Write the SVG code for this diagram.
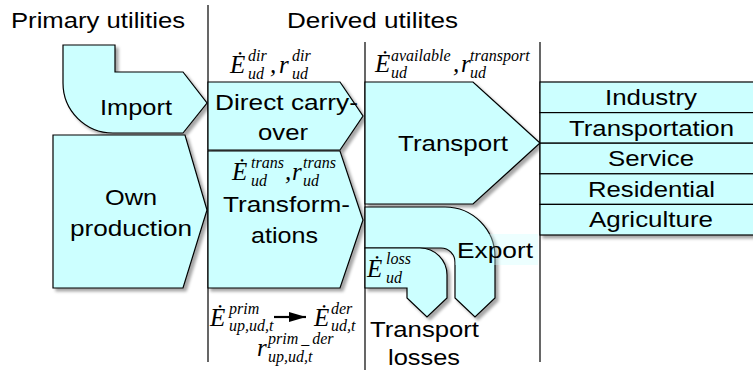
<svg xmlns="http://www.w3.org/2000/svg" width="753" height="372" viewBox="0 0 753 372">
<style>
.sh{fill:#ccffff;stroke:#000;stroke-width:1.2;filter:url(#ds)}
.div{stroke:#000;stroke-width:1.2}
.t{font-family:"Liberation Sans",Arial,sans-serif;font-size:22px;fill:#000}
.m{font-family:"Liberation Serif","Times New Roman",serif;font-style:italic;fill:#000}
.E{font-size:25px}
.s{font-size:16px}
</style>
<defs>
<filter id="ds" x="-10%" y="-10%" width="130%" height="130%">
<feDropShadow dx="3" dy="3" stdDeviation="1.5" flood-color="#000" flood-opacity="0.35"/>
</filter>
<marker id="ah" markerWidth="17" markerHeight="10" refX="17" refY="5" orient="auto" markerUnits="userSpaceOnUse">
<path d="M0,0 L17,5 L0,10 Z" fill="#000"/>
</marker>
</defs>
<rect width="753" height="372" fill="#fff"/>

<g id="dividers">
<line class="div" x1="208" y1="5" x2="208" y2="362"/>
<line class="div" x1="365" y1="42" x2="365" y2="370"/>
<line class="div" x1="540" y1="42" x2="540" y2="362"/>
</g>

<g id="headers">
<text class="t" x="11" y="28" textLength="174" lengthAdjust="spacingAndGlyphs">Primary utilities</text>
<text class="t" x="287" y="28" textLength="171" lengthAdjust="spacingAndGlyphs">Derived utilites</text>
</g>

<g id="import">
<path class="sh" d="M63,45 H115 V72 H183 L207,103 L183,133 H113 A50,50 0 0 1 63,83 Z"/>
<text class="t" x="100" y="115" textLength="72" lengthAdjust="spacingAndGlyphs">Import</text>
</g>

<g id="own-production">
<path class="sh" d="M53,135 H185 L207,210 L183,288 H53 Z"/>
<text class="t" x="105" y="205" textLength="52" lengthAdjust="spacingAndGlyphs">Own</text>
<text class="t" x="70" y="236" textLength="122" lengthAdjust="spacingAndGlyphs">production</text>
</g>

<g id="direct-carry-over">
<path class="sh" d="M208,82 H340 L363,116 L340,150 H208 Z"/>
<text class="t" x="215" y="110" textLength="143" lengthAdjust="spacingAndGlyphs">Direct carry-</text>
<text class="t" x="258" y="140" textLength="50" lengthAdjust="spacingAndGlyphs">over</text>
</g>

<g id="transformations">
<path class="sh" d="M208,151 H340 L363,220 L340,288 H208 Z"/>
<text class="t" x="223" y="212" textLength="127" lengthAdjust="spacingAndGlyphs">Transform-</text>
<text class="t" x="251" y="243" textLength="67" lengthAdjust="spacingAndGlyphs">ations</text>
</g>

<g id="transport">
<path class="sh" d="M365,82 H473 L540,143 L473,204 H365 Z"/>
<text class="t" x="398" y="151" textLength="110" lengthAdjust="spacingAndGlyphs">Transport</text>
</g>

<g id="export">
<path class="sh" d="M365,207 H445 A50,50 0 0 1 495,257 V298 L475,317 L455,298 V262 A14,14 0 0 0 441,248 H365 Z"/>
<rect x="455" y="234" width="83" height="31" fill="#ccffff" fill-opacity="0.35"/>
<text class="t" x="457" y="258" textLength="76" lengthAdjust="spacingAndGlyphs">Export</text>
</g>

<g id="transport-losses">
<path class="sh" d="M365,248 H420 A27,27 0 0 1 447,275 V298 L427,317 L407,298 V288 H365 Z"/>
<text class="t" x="370" y="337" textLength="109" lengthAdjust="spacingAndGlyphs">Transport</text>
<text class="t" x="388" y="365" textLength="72" lengthAdjust="spacingAndGlyphs">losses</text>
</g>

<g id="sectors">
<rect class="sh" x="540" y="82" width="230" height="30.6"/>
<rect class="sh" x="540" y="112.6" width="230" height="30.6"/>
<rect class="sh" x="540" y="143.2" width="230" height="30.6"/>
<rect class="sh" x="540" y="173.8" width="230" height="30.6"/>
<rect class="sh" x="540" y="204.4" width="230" height="30.6"/>
<text class="t" x="605" y="105" textLength="92" lengthAdjust="spacingAndGlyphs">Industry</text>
<text class="t" x="569" y="135.6" textLength="165" lengthAdjust="spacingAndGlyphs">Transportation</text>
<text class="t" x="608" y="166.2" textLength="86" lengthAdjust="spacingAndGlyphs">Service</text>
<text class="t" x="588" y="196.8" textLength="127" lengthAdjust="spacingAndGlyphs">Residential</text>
<text class="t" x="589" y="227.4" textLength="124" lengthAdjust="spacingAndGlyphs">Agriculture</text>
</g>

<g id="label-dir">
<text class="m E" x="230" y="73">Ė</text>
<text class="m s" x="248" y="61">dir</text>
<text class="m s" x="248" y="79">ud</text>
<text class="m E" x="270" y="73">,</text>
<text class="m E" x="279" y="73">r</text>
<text class="m s" x="292" y="61">dir</text>
<text class="m s" x="292" y="79">ud</text>
</g>

<g id="label-available">
<text class="m E" x="375" y="72">Ė</text>
<text class="m s" x="391" y="61">available</text>
<text class="m s" x="391" y="78">ud</text>
<text class="m E" x="453" y="72">,</text>
<text class="m E" x="461" y="72">r</text>
<text class="m s" x="470" y="61">transport</text>
<text class="m s" x="470" y="78">ud</text>
</g>

<g id="label-trans">
<text class="m E" x="232" y="180">Ė</text>
<text class="m s" x="251" y="168">trans</text>
<text class="m s" x="251" y="186">ud</text>
<text class="m E" x="285" y="180">,</text>
<text class="m E" x="292" y="180">r</text>
<text class="m s" x="303" y="168">trans</text>
<text class="m s" x="303" y="186">ud</text>
</g>

<g id="label-loss">
<text class="m E" x="367" y="277">Ė</text>
<text class="m s" x="386" y="264">loss</text>
<text class="m s" x="386" y="283">ud</text>
</g>

<g id="label-prim-der">
<text class="m E" x="210" y="326">Ė</text>
<text class="m s" x="229" y="314">prim</text>
<text class="m s" x="229" y="331">up,ud,t</text>
<text class="m E" x="314" y="326">Ė</text>
<text class="m s" x="331" y="314">der</text>
<text class="m s" x="331" y="331">ud,t</text>
<text class="m E" x="257" y="356">r</text>
<text class="m s" x="268" y="344">prim<tspan dx="3">_</tspan><tspan dx="3">der</tspan></text>
<text class="m s" x="268" y="362">up,ud,t</text>
</g>

<g id="connectors">
<line x1="274" y1="317" x2="306" y2="317" stroke="#000" stroke-width="2.2" marker-end="url(#ah)"/>
</g>
</svg>
